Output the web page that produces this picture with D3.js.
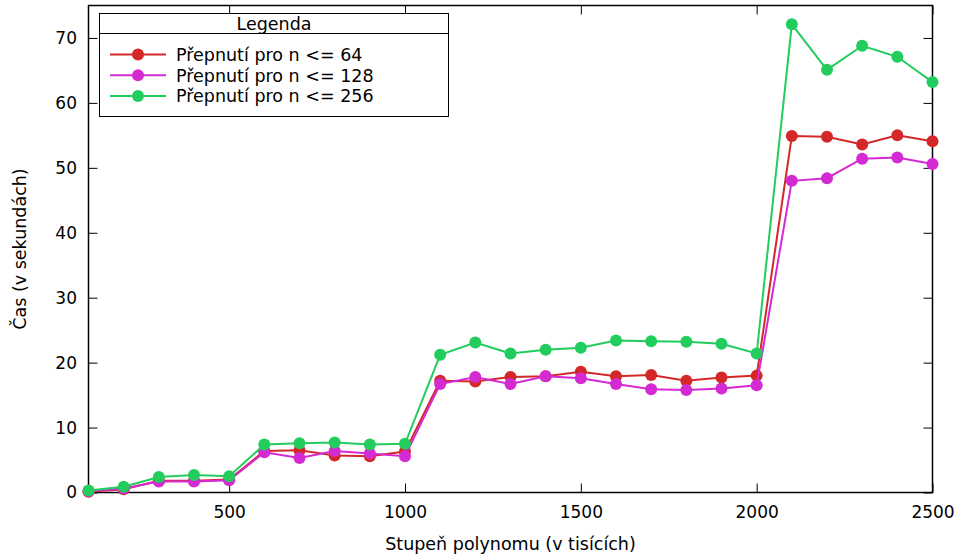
<!DOCTYPE html>
<html lang="cs">
<head>
    <meta charset="UTF-8">
    <title>Čas podle stupně polynomu</title>
    <style>
        body { margin: 0; background: #fff; }
        text { font-family: "DejaVu Sans", sans-serif; fill: #000; }
    </style>
</head>
<body>
    <script src="https://d3js.org/d3.v7.min.js"></script>
    <script>
        // data
        var stupne = [100, 200, 300, 400, 500, 600, 700, 800, 900, 1000, 1100, 1200, 1300,
                      1400, 1500, 1600, 1700, 1800, 1900, 2000, 2100, 2200, 2300, 2400, 2500];
        var n64  = [0.1, 0.5, 1.8, 1.8, 2.0, 6.4, 6.5, 5.7, 5.6, 6.3, 17.2, 17.1, 17.8,
                    17.9, 18.6, 17.9, 18.1, 17.2, 17.7, 18.0, 54.9, 54.8, 53.6, 55.0, 54.1];
        var n128 = [0.2, 0.6, 1.7, 1.7, 1.9, 6.2, 5.3, 6.4, 6.0, 5.6, 16.7, 17.8, 16.7,
                    17.9, 17.6, 16.7, 15.9, 15.8, 16.0, 16.5, 48.0, 48.4, 51.4, 51.6, 50.6];
        var n256 = [0.3, 0.9, 2.4, 2.7, 2.5, 7.4, 7.6, 7.7, 7.4, 7.5, 21.2, 23.1, 21.4,
                    22.0, 22.3, 23.4, 23.3, 23.2, 22.9, 21.4, 72.1, 65.1, 68.8, 67.1, 63.2];
        var nazvy = ["Přepnutí pro n <= 64", "Přepnutí pro n <= 128", "Přepnutí pro n <= 256"];
        var barvy = ["#d42828", "#d42ad2", "#22cd5e"];
        var xTicks = [500, 1000, 1500, 2000, 2500];
        var yTicks = [0, 10, 20, 30, 40, 50, 60, 70];

        var width = 960, height = 558;
        // plot frame (gnuplot style box)
        var pL = 88.5, pR = 932.5, pT = 5.5, pB = 492.5;
        var fs = 17.5;

        var svg = d3.select("body").append("svg")
            .attr("width", width)
            .attr("height", height);

        var x = d3.scaleLinear().domain([100, 2500]).range([pL, pR]);
        var y = d3.scaleLinear().domain([0, 75]).range([pB, pT]);

        // mirrored inward ticks
        var tl = 9;
        svg.append("g").attr("transform", "translate(0," + pB + ")")
            .call(d3.axisBottom(x).tickValues(xTicks).tickSizeInner(-tl).tickSizeOuter(0)
                .tickPadding(13).tickFormat(d3.format("d")))
            .call(g => g.select(".domain").remove());
        svg.append("g").attr("transform", "translate(0," + pT + ")")
            .call(d3.axisTop(x).tickValues(xTicks).tickSizeInner(-tl).tickSizeOuter(0).tickFormat(""))
            .call(g => g.select(".domain").remove());
        svg.append("g").attr("transform", "translate(" + pL + ",0)")
            .call(d3.axisLeft(y).tickValues(yTicks).tickSizeInner(-tl).tickSizeOuter(0).tickPadding(11.5))
            .call(g => g.select(".domain").remove());
        svg.append("g").attr("transform", "translate(" + pR + ",0)")
            .call(d3.axisRight(y).tickValues(yTicks).tickSizeInner(-tl).tickSizeOuter(0).tickFormat(""))
            .call(g => g.select(".domain").remove());
        svg.selectAll(".tick text").attr("font-size", 17).attr("font-family", "DejaVu Sans");
        svg.selectAll(".tick line").attr("stroke", "#000");

        svg.append("rect")
            .attr("x", pL).attr("y", pT)
            .attr("width", pR - pL).attr("height", pB - pT)
            .attr("fill", "none").attr("stroke", "#000").attr("stroke-width", 1.5);

        // series
        var serie = [n64, n128, n256];
        var line = d3.line().x((d, i) => x(stupne[i])).y(d => y(d));
        serie.forEach(function(s, k) {
            var g = svg.append("g");
            g.append("path").datum(s)
                .attr("d", line)
                .attr("fill", "none")
                .attr("stroke", barvy[k])
                .attr("stroke-width", 2);
            g.selectAll("circle").data(s).enter().append("circle")
                .attr("cx", (d, i) => x(stupne[i]))
                .attr("cy", d => y(d))
                .attr("r", 6)
                .attr("fill", barvy[k]);
        });

        // axis titles
        svg.append("text")
            .attr("x", (pL + pR) / 2).attr("y", 550)
            .attr("text-anchor", "middle").attr("font-size", fs)
            .text("Stupeň polynomu (v tisících)");
        svg.append("text")
            .attr("transform", "translate(26," + ((pT + pB) / 2) + ") rotate(-90)")
            .attr("text-anchor", "middle").attr("font-size", fs)
            .text("Čas (v sekundách)");

        // legend
        var lg = svg.append("g");
        lg.append("rect")
            .attr("x", 99.5).attr("y", 13.5).attr("width", 349).attr("height", 103)
            .attr("fill", "#fff").attr("stroke", "#000").attr("stroke-width", 1);
        lg.append("line")
            .attr("x1", 99.5).attr("x2", 448.5).attr("y1", 33.5).attr("y2", 33.5)
            .attr("stroke", "#000");
        lg.append("text")
            .attr("x", 274).attr("y", 29.5)
            .attr("text-anchor", "middle").attr("font-size", fs)
            .text("Legenda");
        nazvy.forEach(function(nm, k) {
            var yy = 54.5 + k * 20.7;
            lg.append("line")
                .attr("x1", 110).attr("x2", 166).attr("y1", yy).attr("y2", yy)
                .attr("stroke", barvy[k]).attr("stroke-width", 2);
            lg.append("circle")
                .attr("cx", 138).attr("cy", yy).attr("r", 6).attr("fill", barvy[k]);
            lg.append("text")
                .attr("x", 176).attr("y", yy + 6.5)
                .attr("font-size", fs)
                .text(nm);
        });
    </script>
</body>
</html>
